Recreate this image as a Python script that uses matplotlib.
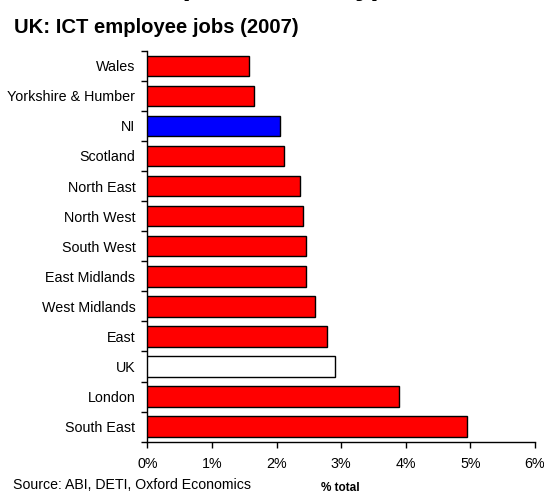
import matplotlib
matplotlib.use("Agg")
import matplotlib.pyplot as plt
import numpy as np

plt.rcParams['font.family'] = ['Liberation Sans', 'DejaVu Sans']

regions = ["Wales", "Yorkshire & Humber", "NI", "Scotland", "North East",
           "North West", "South West", "East Midlands", "West Midlands",
           "East", "UK", "London", "South East"]
share = [1.58, 1.65, 2.06, 2.11, 2.37, 2.41, 2.45, 2.45, 2.59, 2.78, 2.90, 3.90, 4.94]
colors = ["#FF0000", "#FF0000", "#0000FF", "#FF0000", "#FF0000", "#FF0000",
          "#FF0000", "#FF0000", "#FF0000", "#FF0000", "#FFFFFF", "#FF0000", "#FF0000"]
xticks = [0, 1, 2, 3, 4, 5, 6]
xticklabels = ["0%", "1%", "2%", "3%", "4%", "5%", "6%"]

fig = plt.figure(figsize=(5.44, 4.93), dpi=100)
ax = fig.add_axes([147.3 / 544, 1 - 441.7 / 493, (535 - 147.3) / 544, (441.7 - 50.7) / 493])

y = np.arange(len(regions))
ax.barh(y, share, height=0.68, color=colors, edgecolor="black", linewidth=1.0, zorder=3)

ax.set_ylim(len(regions) - 0.5, -0.5)
ax.set_xlim(0, 6)
ax.set_yticks(y)
ax.set_yticklabels(regions, fontsize=10.3)
ax.set_yticks(np.arange(len(regions) + 1) - 0.5, minor=True)
ax.tick_params(axis='y', which='major', length=0, pad=8.5)
ax.tick_params(axis='y', which='minor', length=4, width=1, direction='out')
ax.set_xticks(xticks)
ax.set_xticklabels(xticklabels, fontsize=10.3)
ax.tick_params(axis='x', length=4, width=1, direction='out', pad=7)

for side in ("top", "right"):
    ax.spines[side].set_visible(False)
for side in ("left", "bottom"):
    ax.spines[side].set_color("black")
    ax.spines[side].set_linewidth(1.0)

fig.text(14 / 544, 1 - 33 / 493, "UK: ICT employee jobs (2007)", fontsize=14.6,
         fontweight="bold", ha="left", va="baseline")
fig.text(281 / 544, 1 + 6 / 493, "(ICT intensity)", fontsize=22,
         fontweight="bold", ha="center", va="baseline")
fig.text(13 / 544, 1 - 485 / 493, "Source: ABI, DETI, Oxford Economics", fontsize=10.2,
         ha="left", va="center")
fig.text(340 / 544, 1 - 488 / 493, "% total", fontsize=8.5, fontweight="bold",
         ha="center", va="center")

fig.savefig("out.png", dpi=100)
